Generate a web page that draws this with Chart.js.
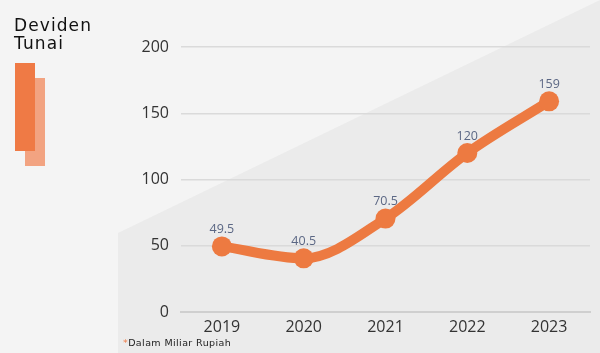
<!DOCTYPE html>
<html><head><meta charset="utf-8">
<script src="https://cdn.jsdelivr.net/npm/chart.js@4/dist/chart.umd.min.js"></script>
<style>
html,body{margin:0;padding:0;background:#f4f4f4;}
#wrap{position:relative;width:600px;height:353px;overflow:hidden;}
canvas{position:absolute;left:0;top:0;}
#title{position:absolute;left:14px;top:16px;font-family:"DejaVu Sans",sans-serif;font-size:17px;line-height:18px;letter-spacing:1.1px;color:#111;}
.r1{position:absolute;left:15px;top:63px;width:20px;height:88px;background:#ef7a45;}
.r2{position:absolute;left:25px;top:78px;width:20px;height:88px;background:#f2a381;}
#note{position:absolute;left:123px;top:337px;font-family:"DejaVu Sans",sans-serif;font-size:9.5px;letter-spacing:0.4px;color:#222;}
#note span{color:#ef7a45;}
</style></head>
<body><div id="wrap">
<canvas id="c" width="600" height="353"></canvas>
<div class="r2"></div><div class="r1"></div>
<div id="title">Deviden<br>Tunai</div>
<div id="note"><span>*</span>Dalam Miliar Rupiah</div>
</div>
<script>
const years = ["2019","2020","2021","2022","2023"];
const dividends = [49.5, 40.5, 70.5, 120, 159];
const valueLabels = ["49.5","40.5","70.5","120","159"];
const yTicks = [0,50,100,150,200];

const bgPlugin = {
  id:'bg',
  beforeDraw(chart){
    const ctx = chart.ctx;
    ctx.save();
    ctx.fillStyle = '#f4f4f4';
    ctx.fillRect(0,0,chart.width,chart.height);
    ctx.fillStyle = '#ebebeb';
    ctx.beginPath();
    ctx.moveTo(118,233);
    ctx.lineTo(600,0);
    ctx.lineTo(600,353);
    ctx.lineTo(118,353);
    ctx.closePath();
    ctx.fill();
    ctx.restore();
  }
};
const labelPlugin = {
  id:'vlabels',
  afterDatasetsDraw(chart){
    const ctx = chart.ctx;
    const meta = chart.getDatasetMeta(0);
    ctx.save();
    ctx.font = '12.5px "Open Sans", sans-serif';
    ctx.fillStyle = '#5b6784';
    ctx.textAlign = 'center';
    ctx.textBaseline = 'middle';
    meta.data.forEach((p,i)=>{
      ctx.fillText(valueLabels[i], p.x, p.y - 17);
    });
    ctx.restore();
  }
};

new Chart(document.getElementById('c'), {
  type:'line',
  data:{labels:years, datasets:[{
    data:dividends,
    borderColor:'#ed7a41',
    backgroundColor:'#ed7a41',
    borderWidth:10,
    pointRadius:10,
    pointHoverRadius:10,
    pointBorderWidth:0,
    cubicInterpolationMode:'monotone',
    fill:false
  }]},
  options:{
    responsive:false,
    animation:false,
    layout:{padding:{left:0,right:9,top:47,bottom:0}},
    plugins:{legend:{display:false},tooltip:{enabled:false}},
    scales:{
      x:{
        offset:true,
        grid:{display:false,drawTicks:false},
        border:{display:true,color:'#cfcfcf',width:2},
        ticks:{padding:6,color:'#333',font:{family:'"Open Sans", sans-serif',size:16}},
        afterFit(s){s.height=41;}
      },
      y:{
        min:0,max:200,
        afterBuildTicks(s){s.ticks = yTicks.map(v=>({value:v}));},
        grid:{color:'#dadada',lineWidth:1.5,drawTicks:false},
        border:{display:false},
        ticks:{padding:12,color:'#333',font:{family:'"Open Sans", sans-serif',size:16}},
        afterFit(s){s.width=181;}
      }
    }
  },
  plugins:[bgPlugin,labelPlugin]
});
</script>
</body></html>
